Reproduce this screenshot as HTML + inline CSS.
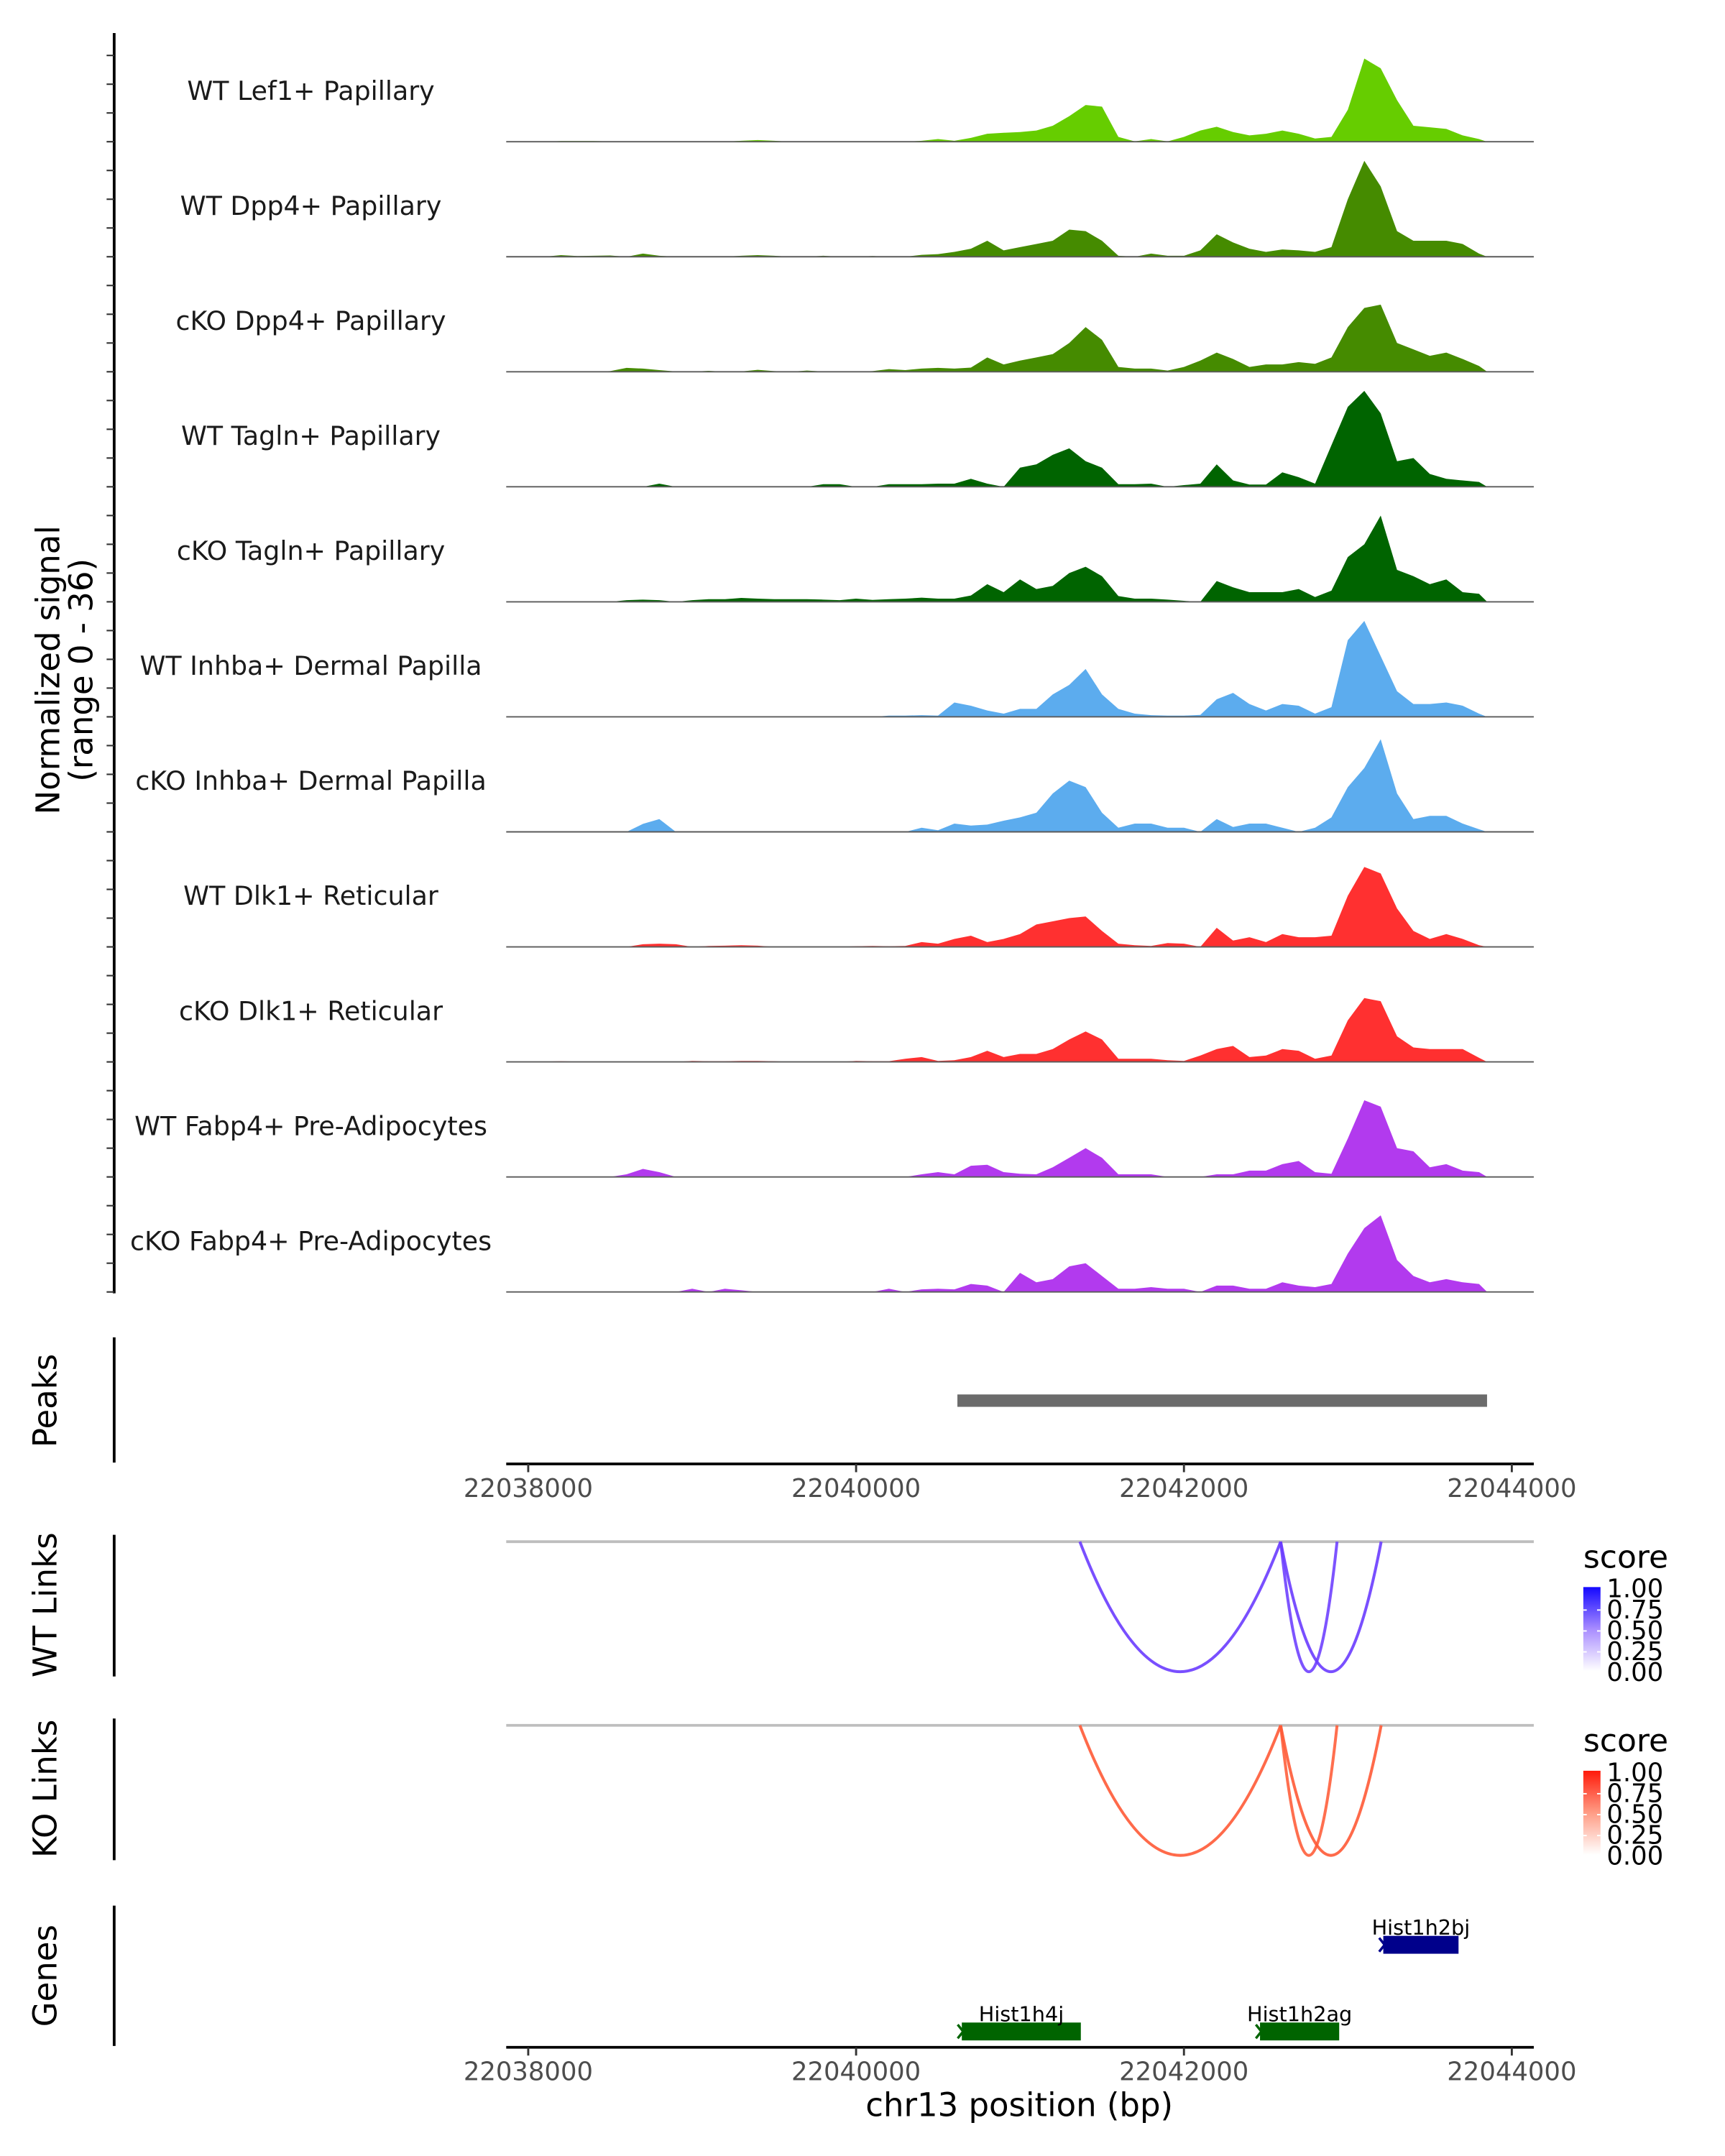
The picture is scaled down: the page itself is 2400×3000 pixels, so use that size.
<!DOCTYPE html>
<html><head><meta charset="utf-8"><title>Coverage plot chr13</title>
<style>
html,body{margin:0;padding:0;background:#fff;}
svg{display:block;}
text{font-family:"DejaVu Sans","Liberation Sans",sans-serif;}
</style></head>
<body>
<svg id="chart" xmlns="http://www.w3.org/2000/svg" width="2400" height="3000" viewBox="0 0 1254 1567" preserveAspectRatio="none">
<defs>
<linearGradient id="gBlue" x1="0" y1="1" x2="0" y2="0"><stop offset="0" stop-color="#ffffff"/><stop offset="0.5" stop-color="#a88cff"/><stop offset="1" stop-color="#1408ff"/></linearGradient>
<linearGradient id="gRed" x1="0" y1="1" x2="0" y2="0"><stop offset="0" stop-color="#ffffff"/><stop offset="0.5" stop-color="#ff9c85"/><stop offset="1" stop-color="#ff1a0a"/></linearGradient>
</defs>
<g id="tracks"></g>
<g id="others"></g>
</svg>
<script>
const trackNames = ["WT Lef1+ Papillary","WT Dpp4+ Papillary","cKO Dpp4+ Papillary","WT Tagln+ Papillary","cKO Tagln+ Papillary","WT Inhba+ Dermal Papilla","cKO Inhba+ Dermal Papilla","WT Dlk1+ Reticular","cKO Dlk1+ Reticular","WT Fabp4+ Pre-Adipocytes","cKO Fabp4+ Pre-Adipocytes"];
const trackColors = ["#66cd00","#458b00","#458b00","#006400","#006400","#5cacee","#5cacee","#ff3030","#ff3030","#b23aee","#b23aee"];
const binStart = 22037850;
const binSize = 100;
const sigLef1WT = [0,0,0,0.2,0.2,0.2,0.1,0,0,0,0,0, 0,0,0.3,0.5,0.3,0,0,0,0,0,0,0, 0,0.3,0.8,0.3,1.2,2.5,2.8,3,3.5,5,8,11.5, 11,1.5,0.1,0.8,0.1,1.5,3.5,4.7,3,2,2.5,3.5, 2.5,1,1.5,10,26,23,13,5,4.5,4,2,0.8];
const sigDpp4WT = [0,0,0,0.5,0.2,0.3,0.4,0,1,0.3,0,0, 0,0,0.3,0.5,0.3,0,0,0.3,0,0,0.2,0, 0,0.6,0.8,1.5,2.5,5,2,3,4,5,8.5,8, 5,0.3,0,1,0.3,0.3,2,7,4.5,2.5,1.5,2.3, 2,1.5,3,18,30,22,8,5,5,5,4,1];
const sigDpp4KO = [0,0,0,0,0,0,0.2,1.2,1,0.5,0.1,0, 0.3,0,0.1,0.6,0.2,0,0.4,0.1,0,0,0.2,0.8, 0.5,1,1.2,1,1.3,4.5,2.3,3.5,4.5,5.5,9,14, 10,1.5,1,1,0.4,1.5,3.5,6,4,1.5,2.3,2.3, 3,2.5,4.5,14,20,21,9,7,5,6,4,1.8];
const sigTaglnWT = [0,0,0,0,0,0,0,0,0,1,0,0, 0,0,0,0,0,0,0,0.8,0.8,0,0,0.8, 0.8,0.8,1,1,2.5,1,0,6,7,10,12,8, 6,0.8,0.8,1,0,0.5,1,7,2,0.7,0.7,4.5, 3,1,13,25,30,23,8,9,4,2.5,2,1.5];
const sigTaglnKO = [0,0,0,0,0,0,0,0.5,0.7,0.5,0,0.5, 0.8,0.8,1.2,1,0.8,0.8,0.8,0.7,0.5,1,0.6,0.8, 1,1.3,1,1,2,5.5,3,7,4,5,9,11, 8,1.8,1,1,0.7,0.3,0,6.5,4.5,3,3,3, 4,1.5,3.5,14,18,27,10,8,5.5,7,3,2.5];
const sigInhbaWT = [0,0,0,0,0,0,0,0,0,0,0,0, 0,0,0,0,0,0,0,0,0,0,0,0.4, 0.4,0.5,0.4,4.5,3.5,2,1,2.5,2.5,7,10,15, 7,2.5,1,0.5,0.4,0.4,0.6,5.5,7.5,4,2,4, 3.5,1,3,24,30,19,8,4,4,4.5,3.5,1];
const sigInhbaKO = [0,0,0,0,0,0,0,0,2.5,4,0,0, 0,0,0,0,0,0,0,0,0,0,0,0, 0,1.3,0.5,2.6,2,2.3,3.5,4.5,6,12,16,14, 6,1.3,2.6,2.6,1.3,1.3,0,4,1.5,2.6,2.6,1.3, 0,1.3,4.5,14,20,29,12,4,5,5,2.6,0.8];
const sigDlk1WT = [0,0,0,0,0,0,0,0,0.8,1,0.8,0, 0.3,0.4,0.5,0.4,0,0,0,0,0,0.2,0.3,0.2, 0.3,1.5,1,2.5,3.5,1.5,2.5,4,7,8,9,9.5, 5,1,0.5,0.3,1.2,1,0,6,2,3,1.5,4, 3,3,3.5,16,25,23,12,5,2.5,4,2.5,0.5];
const sigDlk1KO = [0,0,0.1,0.2,0.1,0,0,0,0,0,0,0.3, 0.2,0.2,0.3,0.3,0.2,0,0,0,0,0.3,0.2,0.2, 1,1.5,0.3,0.5,1.5,3.5,1.5,2.5,2.5,4,7,9.5, 7,1,1,1,0.5,0.3,2,4,5,1.5,2,4, 3.5,1,2,13,20,19,8,4.5,4,4,4,1.3];
const sigFabp4WT = [0,0,0,0,0,0,0,0.8,2.5,1.5,0,0, 0,0,0,0,0,0,0,0,0,0,0,0, 0,0.8,1.5,0.8,3.5,3.8,1.5,1,0.8,3,6,9, 6,0.8,0.8,0.8,0,0,0,0.8,0.8,2,2,4, 5,1.5,1,12,24,22,9,8,3,4,2,1.5];
const sigFabp4KO = [0,0,0,0,0,0,0,0,0,0,0,1, 0,1,0.5,0,0,0,0,0,0,0,0,1, 0,0.8,1,0.8,2.5,2,0,6,3,4,8,9, 5,1,1,1.5,1,1,0,2,2,1,1,3, 2,1.5,2.5,12,20,24,10,5,3,4,3,2.5];
const signals = [sigLef1WT,sigDpp4WT,sigDpp4KO,sigTaglnWT,sigTaglnKO,sigInhbaWT,sigInhbaKO,sigDlk1WT,sigDlk1KO,sigFabp4WT,sigFabp4KO];
const yMax = 36;
const xTicks = [22038000,22040000,22042000,22044000];
const peakStarts = [22040618];
const peakEnds = [22043849];
const linkStarts = [22041365,22042590,22042590];
const linkEnds = [22042590,22042934,22043203];
const wtLinkScores = [0.78,0.72,0.78];
const koLinkScores = [0.78,0.72,0.78];
const legendTicks = ["1.00","0.75","0.50","0.25","0.00"];
const geneNames = ["Hist1h2bj","Hist1h4j","Hist1h2ag"];
const geneStarts = [22043216,22040645,22042464];
const geneEnds = [22043675,22041371,22042947];
const geneRows = [0,1,1];
const geneColors = ["#00008b","#006400","#006400"];

const NS = "http://www.w3.org/2000/svg";
const svg = document.getElementById("chart");
const gT = document.getElementById("tracks");
const gO = document.getElementById("others");
const X0 = 368, X1 = 1115;
function xScale(bp){ return 384 + (bp - 22038000) * 0.11917; }
const TOP0 = 19.4, TH = 83.6;
function yScale(track, v){ return TOP0 + (track + 1) * TH - v / yMax * TH; }
function mk(tag, attrs, parent){ const e = document.createElementNS(NS, tag); for (const k in attrs) e.setAttribute(k, attrs[k]); (parent||gO).appendChild(e); return e; }

let el = mk("line",{x1:83,y1:24,x2:83,y2:940,stroke:"#000","stroke-width":2});


for (let t = 0; t < trackNames.length; t++) {
  for (let k = 0; k < 4; k++) {
    const yy = yScale(t, k * 9);
    const tk = mk("line",{x1:77.5,y1:yy,x2:83,y2:yy,stroke:"#333","stroke-width":1.1});
    
    
  }
}
el = mk("text",{x:0,y:0,"font-size":23.5,"text-anchor":"middle","dominant-baseline":"central",transform:"translate(35,487) rotate(-90)",fill:"#000"});
el.textContent = "Normalized signal";


el = mk("text",{x:0,y:0,"font-size":23.5,"text-anchor":"middle","dominant-baseline":"central",transform:"translate(59,487) rotate(-90)",fill:"#000"});
el.textContent = "(range 0 - 36)";



for (let t = 0; t < trackNames.length; t++) {
  const vals = signals[t];
  const base = yScale(t, 0);
  let pts = [];
  pts.push(xScale(binStart).toFixed(1) + "," + base.toFixed(1));
  for (let i = 0; i < vals.length; i++) {
    const xa = xScale(binStart + i * binSize);
    const xb = xScale(binStart + (i + 1) * binSize);
    pts.push(((xa + xb) / 2).toFixed(1) + "," + yScale(t, vals[i]).toFixed(1));
  }
  pts.push(xScale(binStart + vals.length * binSize).toFixed(1) + "," + base.toFixed(1));
  const area = mk("polygon",{points:pts.join(" "),fill:trackColors[t]},gT);
  
  
  const bl = mk("line",{x1:X0,y1:base,x2:X1,y2:base,stroke:"#5a5a5a","stroke-width":1},gT);
  
  
  const lb = mk("text",{x:226,y:base-37,"font-size":19,"text-anchor":"middle","dominant-baseline":"central",fill:"#1a1a1a"},gT);
  lb.textContent = trackNames[t];
  
  
}

el = mk("line",{x1:83,y1:972,x2:83,y2:1063,stroke:"#000","stroke-width":2});


el = mk("text",{x:0,y:0,"font-size":23.5,"text-anchor":"middle","dominant-baseline":"central",transform:"translate(33,1018) rotate(-90)"});
el.textContent = "Peaks";


for (let i = 0; i < peakStarts.length; i++) {
  const p = mk("rect",{x:xScale(peakStarts[i]),y:1013.5,width:xScale(peakEnds[i])-xScale(peakStarts[i]),height:9,fill:"#6b6b6b"});
  
  
}

function xAxis(y, name) {
  const a = mk("line",{x1:X0,y1:y,x2:X1,y2:y,stroke:"#000","stroke-width":2});
  
  
  for (let i = 0; i < xTicks.length; i++) {
    const xx = xScale(xTicks[i]);
    const tk = mk("line",{x1:xx,y1:y,x2:xx,y2:y+6,stroke:"#333","stroke-width":1.5});
    
    
    const tl = mk("text",{x:xx,y:y+24,"font-size":18.5,"text-anchor":"middle",fill:"#4d4d4d"});
    tl.textContent = String(xTicks[i]);
    
    
  }
}
xAxis(1064, 'peaks-x-axis');

function linkPanel(top, scores, color1, grad, label, name) {
  const ax = mk("line",{x1:83,y1:top-5,x2:83,y2:top+98,stroke:"#000","stroke-width":2});
  
  
  const tt = mk("text",{x:0,y:0,"font-size":23.5,"text-anchor":"middle","dominant-baseline":"central",transform:"translate(33,"+(top+46)+") rotate(-90)"});
  tt.textContent = label;
  
  
  const gl = mk("line",{x1:X0,y1:top,x2:X1,y2:top,stroke:"#bebebe","stroke-width":2});
  
  
  const depth = 94.5;
  for (let i = 0; i < linkStarts.length; i++) {
    const xa = xScale(linkStarts[i]), xb = xScale(linkEnds[i]);
    const d = "M" + xa + "," + top + " Q" + ((xa + xb) / 2) + "," + (top + 2 * depth) + " " + xb + "," + top;
    const op = 0.55 + 0.45 * scores[i];
    const p = mk("path",{d:d,fill:"none",stroke:color1,"stroke-width":2.1,"stroke-opacity":op});
    
    
  }
  const lt = mk("text",{x:1151,y:top+19,"font-size":23,fill:"#000"});
  lt.textContent = "score";
  
  
  const cb = mk("rect",{x:1151,y:top+33,width:12.5,height:61,fill:"url(#" + grad + ")"});
  
  
  for (let k = 0; k < legendTicks.length; k++) {
    const yy = top + 34.5 + k * 15.2;
    if (k > 0 && k < 4) {
      const w1 = mk("line",{x1:1151,y1:yy,x2:1153.5,y2:yy,stroke:"#fff","stroke-width":1});
      
      
      const w2 = mk("line",{x1:1161,y1:yy,x2:1163.5,y2:yy,stroke:"#fff","stroke-width":1});
      
      
    }
    const tl = mk("text",{x:1168,y:yy,"font-size":18.5,"dominant-baseline":"central",fill:"#000"});
    tl.textContent = legendTicks[k];
    
    
  }
}
linkPanel(1120.5, wtLinkScores, "#6a3cff", "gBlue", "WT Links", "wt-links");
linkPanel(1254, koLinkScores, "#ff5a36", "gRed", "KO Links", "ko-links");

el = mk("line",{x1:83,y1:1385,x2:83,y2:1487,stroke:"#000","stroke-width":2});


el = mk("text",{x:0,y:0,"font-size":23.5,"text-anchor":"middle","dominant-baseline":"central",transform:"translate(33,1436) rotate(-90)"});
el.textContent = "Genes";


for (let i = 0; i < geneNames.length; i++) {
  const xa = xScale(geneStarts[i]), xb = xScale(geneEnds[i]);
  const yTop = geneRows[i] === 0 ? 1407 : 1470;
  const r = mk("rect",{x:xa,y:yTop,width:xb-xa,height:13,fill:geneColors[i]});
  
  
  const ar = mk("path",{d:"M"+(xa-3)+","+(yTop+1.5)+" L"+(xa+1)+","+(yTop+6.5)+" L"+(xa-3)+","+(yTop+11.5),fill:"none",stroke:geneColors[i],"stroke-width":1.8});
  
  
  const gl = mk("text",{x:(xa+xb)/2,y:yTop-1,"font-size":15,"text-anchor":"middle",fill:"#000"});
  gl.textContent = geneNames[i];
  
  
}
xAxis(1488, 'genes-x-axis');
el = mk("text",{x:741,y:1538,"font-size":23.5,"text-anchor":"middle",fill:"#000"});
el.textContent = "chr13 position (bp)";


</script>
</body></html>
